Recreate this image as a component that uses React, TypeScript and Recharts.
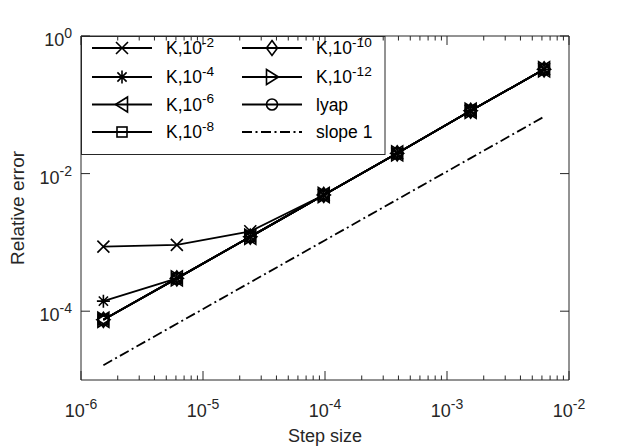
import React from 'react';
import { LineChart, Line, XAxis, YAxis } from 'recharts';

// Step sizes and relative errors for each tolerance of the Krylov solver.
const stepSize = [1.526e-6, 6.104e-6, 2.441e-5, 9.766e-5, 3.906e-4, 1.5625e-3, 6.25e-3];
const errTol2 = [8.7e-4, 9.2e-4, 1.45e-3, 4.89e-3, 1.97e-2, 8.2e-2, 0.328];
const errTol4 = [1.4e-4, 3.0e-4, 1.21e-3, 4.89e-3, 1.97e-2, 8.2e-2, 0.328];
const errTol6 = [7.5e-5, 3.0e-4, 1.21e-3, 4.89e-3, 1.97e-2, 8.2e-2, 0.328];
const errTol8 = [7.5e-5, 3.0e-4, 1.21e-3, 4.89e-3, 1.97e-2, 8.2e-2, 0.328];
const errTol10 = [7.5e-5, 3.0e-4, 1.21e-3, 4.89e-3, 1.97e-2, 8.2e-2, 0.328];
const errTol12 = [7.5e-5, 3.0e-4, 1.21e-3, 4.89e-3, 1.97e-2, 8.2e-2, 0.328];
const errLyap = [7.5e-5, 3.0e-4, 1.21e-3, 4.89e-3, 1.97e-2, 8.2e-2, 0.328];
const slopeOne = [1.64e-5, 6.56e-5, 2.625e-4, 1.05e-3, 4.2e-3, 1.68e-2, 6.72e-2];

// Axis decades and their exponent labels.
const xDecades = [1e-6, 1e-5, 1e-4, 1e-3, 1e-2];
const xDecadeExp = ['-6', '-5', '-4', '-3', '-2'];
const yDecades = [1e-4, 1e-2, 1];
const yDecadeExp = ['-4', '-2', '0'];
const minorSteps = [2, 3, 4, 5, 6, 7, 8, 9];

const xTicks: number[] = [];
xDecades.forEach((d, i) => {
  xTicks.push(d);
  if (i < xDecades.length - 1) minorSteps.forEach((m) => xTicks.push(m * d));
});

const data = stepSize.map((h, i) => ({
  h,
  tol2: errTol2[i],
  tol4: errTol4[i],
  tol6: errTol6[i],
  tol8: errTol8[i],
  tol10: errTol10[i],
  tol12: errTol12[i],
  lyap: errLyap[i],
  slope: slopeOne[i],
}));

const FONT = '"Liberation Sans", Arial, Helvetica, sans-serif';
const AXIS = '#262626';
const W = 630;
const H = 448;
const LEFT = 81;
const RIGHT = 569;
const TOP = 36;
const BOTTOM = 380;
const DASHDOT = '10 3.5 2 3.5';
const TICK_FONT = 18;
const LEGEND_FONT = 17.5;
const SUP = 0.78;
const LINE_W = 1.8;

type MarkerKind = 'cross' | 'asterisk' | 'triLeft' | 'square' | 'diamond' | 'triRight' | 'circle';

function Marker({ kind, cx, cy }: { kind: MarkerKind; cx: number; cy: number }) {
  const s = { fill: 'none', stroke: '#000', strokeWidth: 1.6 };
  switch (kind) {
    case 'cross': {
      const r = 6;
      return <path d={`M${cx - r},${cy - r}L${cx + r},${cy + r}M${cx - r},${cy + r}L${cx + r},${cy - r}`} {...s} />;
    }
    case 'asterisk': {
      const r = 6.5;
      const d = 4.6;
      return (
        <path
          d={`M${cx},${cy - r}L${cx},${cy + r}M${cx - r},${cy}L${cx + r},${cy}M${cx - d},${cy - d}L${cx + d},${cy + d}M${cx - d},${cy + d}L${cx + d},${cy - d}`}
          {...s}
        />
      );
    }
    case 'triLeft':
      return <path d={`M${cx - 6.5},${cy}L${cx + 5.5},${cy - 7.5}L${cx + 5.5},${cy + 7.5}Z`} {...s} />;
    case 'triRight':
      return <path d={`M${cx + 6.5},${cy}L${cx - 5.5},${cy - 7.5}L${cx - 5.5},${cy + 7.5}Z`} {...s} />;
    case 'square':
      return <rect x={cx - 5} y={cy - 5} width={10} height={10} {...s} />;
    case 'diamond':
      return <path d={`M${cx},${cy - 7.5}L${cx + 5.5},${cy}L${cx},${cy + 7.5}L${cx - 5.5},${cy}Z`} {...s} />;
    default:
      return <circle cx={cx} cy={cy} r={5.5} {...s} />;
  }
}

const markerDot = (kind: MarkerKind) => (p: any) => (
  <Marker key={`${kind}-${p.index}`} kind={kind} cx={p.cx} cy={p.cy} />
);

function PowerLabel({ x, y, exp, anchor, size = TICK_FONT }: { x: number; y: number; exp: string; anchor: string; size?: number }) {
  return (
    <text x={x} y={y} textAnchor={anchor as any} fontFamily={FONT} fontSize={size} fill={AXIS}>
      10
      <tspan dy={-8} fontSize={size * SUP}>
        {exp}
      </tspan>
    </text>
  );
}

const xTick = (side: 'bottom' | 'top') => (props: any) => {
  const { x, y, payload } = props;
  const idx = xDecades.indexOf(payload.value);
  const len = idx >= 0 ? 9 : 4.5;
  const dir = side === 'bottom' ? -1 : 1;
  return (
    <g>
      <line x1={x} x2={x} y1={y} y2={y + dir * len} stroke={AXIS} strokeWidth={1} />
      {side === 'bottom' && idx >= 0 && <PowerLabel x={x} y={y + 37} exp={xDecadeExp[idx]} anchor="middle" />}
    </g>
  );
};

const yTick = (side: 'left' | 'right') => (props: any) => {
  const { x, y, payload } = props;
  const idx = yDecades.indexOf(payload.value);
  const dir = side === 'left' ? 1 : -1;
  return (
    <g>
      <line x1={x} x2={x + dir * 9} y1={y} y2={y} stroke={AXIS} strokeWidth={1} />
      {side === 'left' && idx >= 0 && <PowerLabel x={x - 9} y={y + 10} exp={yDecadeExp[idx]} anchor="end" />}
    </g>
  );
};

type LegendItem = { base: string; exp?: string; kind?: MarkerKind };
const legendCol1: LegendItem[] = [
  { base: 'K,10', exp: '-2', kind: 'cross' },
  { base: 'K,10', exp: '-4', kind: 'asterisk' },
  { base: 'K,10', exp: '-6', kind: 'triLeft' },
  { base: 'K,10', exp: '-8', kind: 'square' },
];
const legendCol2: LegendItem[] = [
  { base: 'K,10', exp: '-10', kind: 'diamond' },
  { base: 'K,10', exp: '-12', kind: 'triRight' },
  { base: 'lyap', kind: 'circle' },
  { base: 'slope 1' },
];
const legendRowY = [48, 77, 104.5, 132];

function LegendColumn({ items, x0 }: { items: LegendItem[]; x0: number }) {
  return (
    <g>
      {items.map((it, i) => {
        const y = legendRowY[i];
        return (
          <g key={i}>
            <line
              x1={x0}
              x2={x0 + 60}
              y1={y}
              y2={y}
              stroke="#000"
              strokeWidth={LINE_W}
              strokeDasharray={it.kind ? undefined : DASHDOT}
            />
            {it.kind && <Marker kind={it.kind} cx={x0 + 30} cy={y} />}
            <text x={x0 + 74} y={y + 6} fontFamily={FONT} fontSize={LEGEND_FONT} fill="#000">
              {it.base}
              {it.exp && (
                <tspan dy={-7.5} fontSize={LEGEND_FONT * SUP}>
                  {it.exp}
                </tspan>
              )}
            </text>
          </g>
        );
      })}
    </g>
  );
}

const axisLine = { stroke: AXIS, strokeWidth: 1 };

export default function App() {
  return (
    <div style={{ position: 'absolute', left: 0, top: 0, width: W, height: H, background: '#fff' }}>
      <LineChart width={W} height={H} data={data} margin={{ top: 0, right: 0, bottom: 0, left: 0 }}>
        <XAxis
          xAxisId="bottom"
          dataKey="h"
          type="number"
          scale="log"
          domain={[1e-6, 1e-2]}
          allowDataOverflow
          ticks={xTicks}
          interval={0}
          height={H - BOTTOM}
          tickSize={0}
          tickMargin={0}
          tickLine={false}
          axisLine={axisLine}
          tick={xTick('bottom')}
        />
        <XAxis
          xAxisId="top"
          orientation="top"
          dataKey="h"
          type="number"
          scale="log"
          domain={[1e-6, 1e-2]}
          allowDataOverflow
          ticks={xTicks}
          interval={0}
          height={TOP}
          tickSize={0}
          tickMargin={0}
          tickLine={false}
          axisLine={axisLine}
          tick={xTick('top')}
        />
        <YAxis
          yAxisId="left"
          type="number"
          scale="log"
          domain={[1e-5, 1]}
          allowDataOverflow
          ticks={yDecades}
          interval={0}
          width={LEFT}
          tickSize={0}
          tickMargin={0}
          tickLine={false}
          axisLine={axisLine}
          tick={yTick('left')}
        />
        <YAxis
          yAxisId="right"
          orientation="right"
          type="number"
          scale="log"
          domain={[1e-5, 1]}
          allowDataOverflow
          ticks={yDecades}
          interval={0}
          width={W - RIGHT}
          tickSize={0}
          tickMargin={0}
          tickLine={false}
          axisLine={axisLine}
          tick={yTick('right')}
        />
        <Line xAxisId="bottom" yAxisId="left" dataKey="tol2" stroke="#000" strokeWidth={LINE_W} dot={markerDot('cross')} isAnimationActive={false} />
        <Line xAxisId="bottom" yAxisId="left" dataKey="tol4" stroke="#000" strokeWidth={LINE_W} dot={markerDot('asterisk')} isAnimationActive={false} />
        <Line xAxisId="bottom" yAxisId="left" dataKey="tol6" stroke="#000" strokeWidth={LINE_W} dot={markerDot('triLeft')} isAnimationActive={false} />
        <Line xAxisId="bottom" yAxisId="left" dataKey="tol8" stroke="#000" strokeWidth={LINE_W} dot={markerDot('square')} isAnimationActive={false} />
        <Line xAxisId="bottom" yAxisId="left" dataKey="tol10" stroke="#000" strokeWidth={LINE_W} dot={markerDot('diamond')} isAnimationActive={false} />
        <Line xAxisId="bottom" yAxisId="left" dataKey="tol12" stroke="#000" strokeWidth={LINE_W} dot={markerDot('triRight')} isAnimationActive={false} />
        <Line xAxisId="bottom" yAxisId="left" dataKey="lyap" stroke="#000" strokeWidth={LINE_W} dot={markerDot('circle')} isAnimationActive={false} />
        <Line xAxisId="bottom" yAxisId="left" dataKey="slope" stroke="#000" strokeWidth={LINE_W} strokeDasharray={DASHDOT} dot={false} isAnimationActive={false} />
      </LineChart>
      <svg width={W} height={H} style={{ position: 'absolute', left: 0, top: 0, pointerEvents: 'none' }}>
        <rect x={81.5} y={36.5} width={303.5} height={118} fill="none" stroke={AXIS} strokeWidth={1} />
        <LegendColumn items={legendCol1} x0={92} />
        <LegendColumn items={legendCol2} x0={242} />
        <text x={(LEFT + RIGHT) / 2} y={442} textAnchor="middle" fontFamily={FONT} fontSize={18} fill={AXIS}>
          Step size
        </text>
        <text
          x={24}
          y={(TOP + BOTTOM) / 2}
          textAnchor="middle"
          fontFamily={FONT}
          fontSize={19}
          fill={AXIS}
          transform={`rotate(-90, 24, ${(TOP + BOTTOM) / 2})`}
        >
          Relative error
        </text>
      </svg>
    </div>
  );
}
